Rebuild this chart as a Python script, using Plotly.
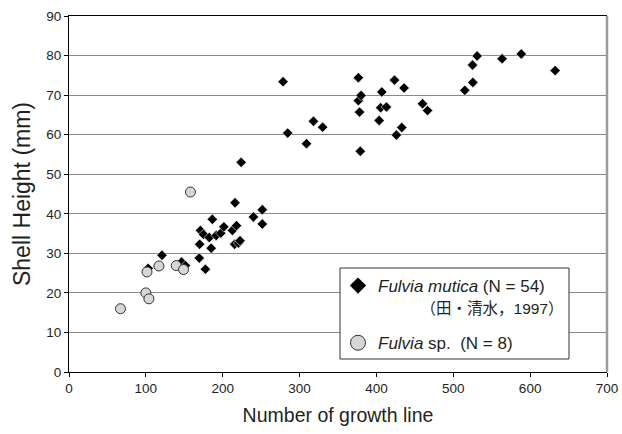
import plotly.graph_objects as go

# Fulvia mutica (N = 54)
mutica_x = [103, 121, 146.5, 151.5, 169.5, 177.5, 170, 171, 175, 185, 182.5, 186.5,
            191.5, 197.5, 201.5, 212.5, 216, 218, 215.5, 220.5, 222.5, 224, 240, 251.5, 251.5,
            278.5, 284.5, 309, 318, 330, 376.5, 376.5, 380, 378, 379, 407, 405.5, 413,
            403.5, 423.5, 436, 426, 433, 460, 466.5, 515, 525.5, 525, 531, 563.5, 588.5, 632.5]
mutica_y = [26.2, 29.5, 27.8, 26.9, 28.8, 26.0, 32.3, 35.8, 34.8, 31.3, 34.0, 38.6,
            34.5, 35.1, 36.7, 35.8, 42.8, 37.0, 32.3, 32.6, 33.2, 53.0, 39.2, 41.0, 37.4,
            73.4, 60.4, 57.7, 63.4, 61.9, 74.4, 68.6, 69.9, 65.7, 55.8, 70.8, 66.8, 67.0,
            63.6, 73.8, 71.8, 59.9, 61.8, 67.8, 66.1, 71.2, 73.2, 77.6, 79.9, 79.2, 80.4, 76.2]

# Fulvia sp. (N = 8)
sp_x = [67, 100, 104, 101.5, 117, 139.5, 149, 158]
sp_y = [16, 20, 18.5, 25.3, 26.8, 26.9, 25.9, 45.5]

x_ticks = [0, 100, 200, 300, 400, 500, 600, 700]
y_ticks = [0, 10, 20, 30, 40, 50, 60, 70, 80, 90]

FONT = "Liberation Sans, Arial, Noto Sans CJK JP, sans-serif"
NB = "\u00a0"

L, R, T, B = 69, 607, 16, 372
FW, FH = 622, 434
W = R - L
H = B - T


def px(xp):
    return (xp - L) / W


def py(yp):
    return (B - yp) / H


fig = go.Figure()
fig.add_trace(go.Scatter(
    x=mutica_x, y=mutica_y, mode="markers", showlegend=False,
    marker=dict(symbol="diamond", size=8, color="#000000",
                line=dict(color="#ffffff", width=0.6)),
))
fig.add_trace(go.Scatter(
    x=sp_x, y=sp_y, mode="markers", showlegend=False,
    marker=dict(symbol="circle", size=10, color="#d6d6d6",
                line=dict(color="#333333", width=1)),
))
# legend entries
fig.add_trace(go.Scatter(
    x=[None], y=[None], mode="markers", legendgroup="a",
    name="<i>Fulvia mutica</i> (N = 54)<br>" + NB * 9 + "<span style='font-size:15.5px'>（田・清水，1997）</span>",
    marker=dict(symbol="diamond", size=12.5, color="#000000"),
))
fig.add_trace(go.Scatter(
    x=[None], y=[None], mode="markers", legendgroup="b",
    name="<i>Fulvia</i> sp." + NB * 2 + "(N = 8)",
    marker=dict(symbol="circle", size=15, color="#d6d6d6",
                line=dict(color="#333333", width=1)),
))

fig.update_layout(
    width=FW, height=FH,
    margin=dict(l=L, r=FW - R, t=T, b=FH - B),
    paper_bgcolor="white", plot_bgcolor="white",
    font=dict(family=FONT, color="#231f20"),
    legend=dict(
        x=px(338), y=py(268),
        xanchor="left", yanchor="top",
        bgcolor="rgba(0,0,0,0)", borderwidth=0,
        font=dict(size=17, family=FONT, color="#231f20"),
        valign="top", tracegroupgap=10, itemsizing="trace",
    ),
    xaxis=dict(
        range=[0, 700], tickvals=x_ticks, ticks="outside", ticklen=4,
        tickcolor="#000", showline=True, linecolor="#000", linewidth=1,
        mirror=True, showgrid=False, zeroline=False, automargin=False,
        tickfont=dict(size=13.5), title=dict(text="Number of growth line",
                                             font=dict(size=19.5), standoff=13),
    ),
    yaxis=dict(
        range=[0, 90], tickvals=y_ticks, ticks="outside", ticklen=4,
        tickcolor="#000", showline=True, linecolor="#000", linewidth=1,
        showgrid=True, gridcolor="#8a8a8a", gridwidth=1, zeroline=False,
        automargin=False,
        tickfont=dict(size=13.5), title=dict(text="Shell Height (mm)",
                                             font=dict(size=23), standoff=9),
    ),
    shapes=[
        dict(type="rect", xref="paper", yref="paper",
             x0=px(340), x1=px(569), y0=py(359), y1=py(268),
             line=dict(color="#333333", width=1), fillcolor="white", layer="above"),
        dict(type="line", xref="paper", yref="paper", x0=1, x1=1, y0=0, y1=1,
             line=dict(color="#9a9a9a", width=2.5), layer="above"),
    ],
)

fig.write_html(
    "out.html",
    config={"displayModeBar": False},
    post_script="document.body.style.margin='0';document.body.style.overflow='hidden';",
)
